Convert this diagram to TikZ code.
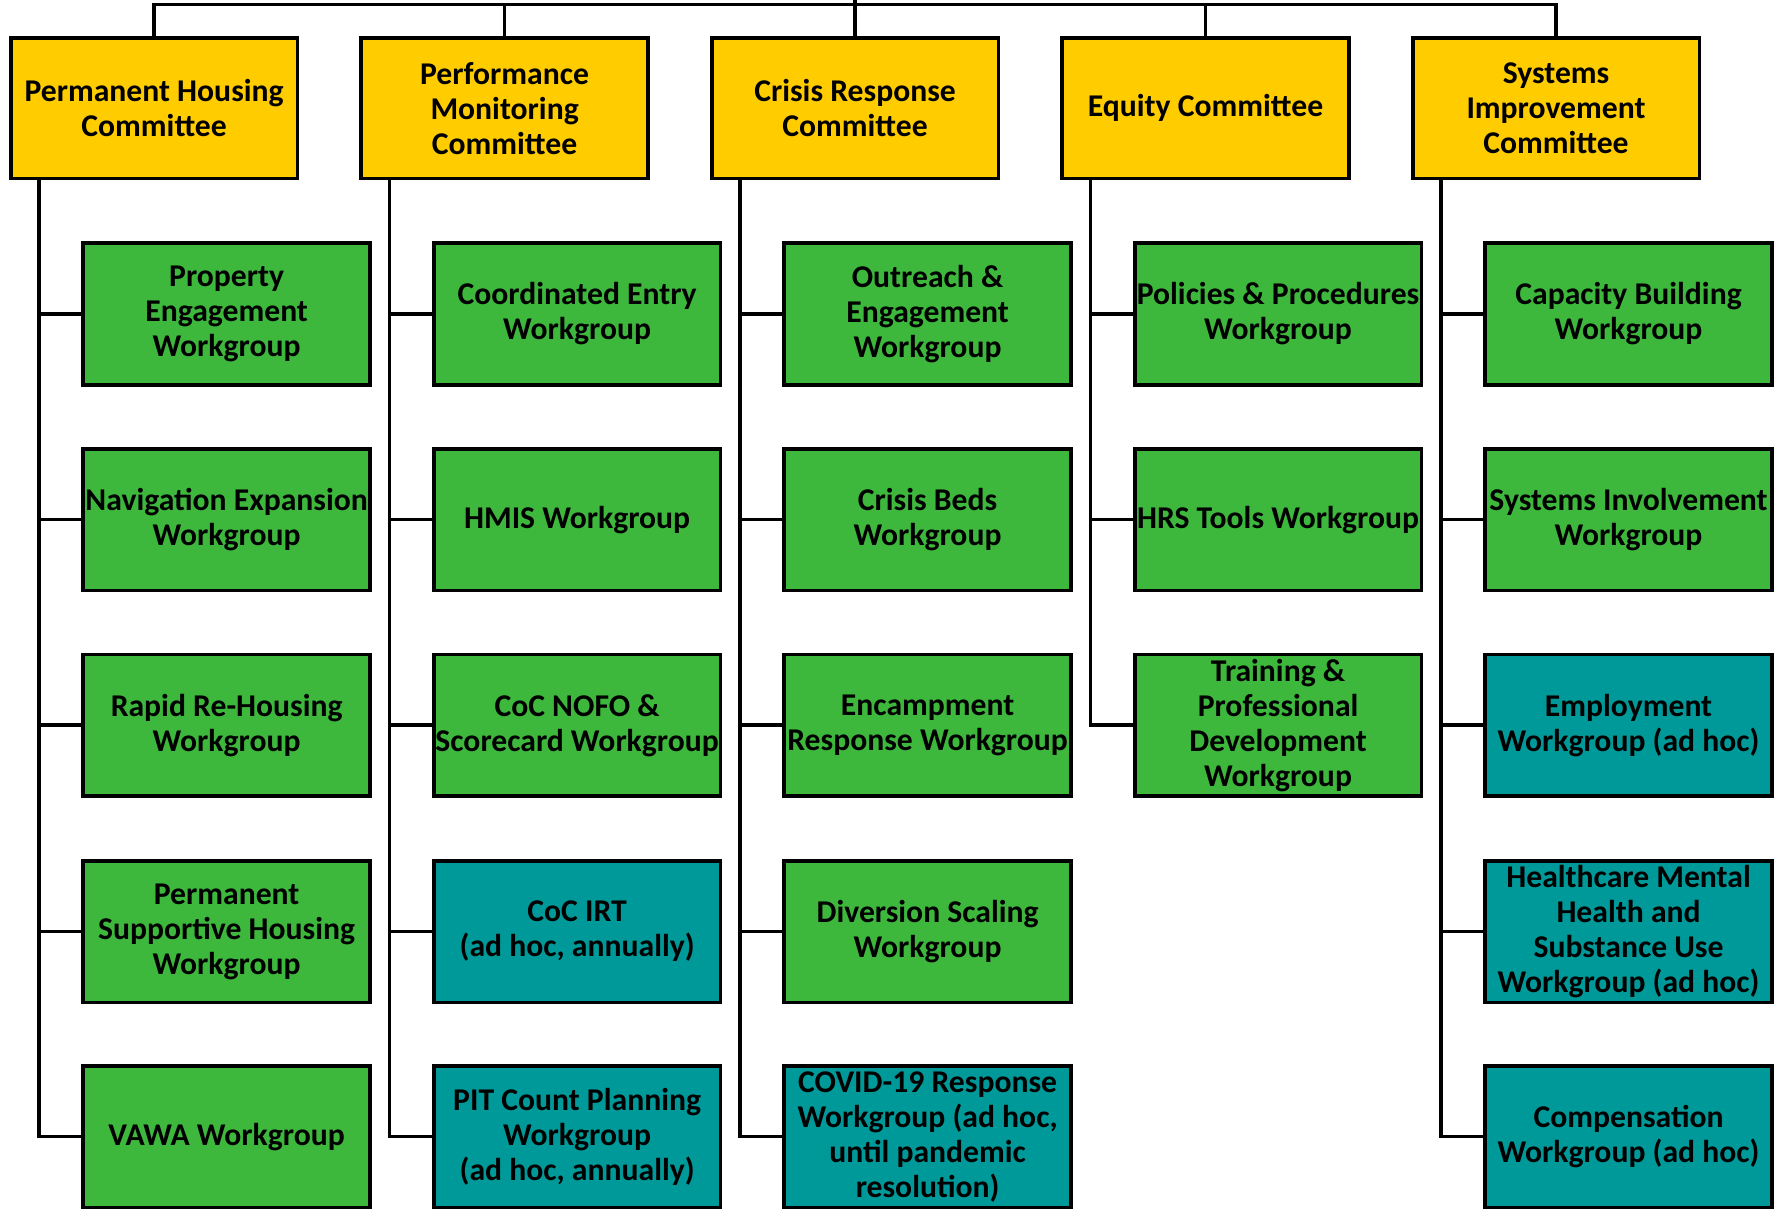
\documentclass[tikz,border=0pt]{standalone}
\usepackage{fontspec}
\setmainfont{Carlito}
\usetikzlibrary{calc}
\definecolor{cyel}{RGB}{255,204,0}
\definecolor{cgrn}{RGB}{61,184,61}
\definecolor{cteal}{RGB}{0,153,153}
\begin{document}
\begin{tikzpicture}[x=0.1mm,y=-0.1mm,
 box/.style={draw=black, line width=0.33mm, minimum width=25.3mm, minimum height=12.5mm, inner sep=0pt, align=center, font=\fontsize{7.95}{8.8}\selectfont\bfseries},
 comm/.style={box, fill=cyel, minimum height=12.4mm},
 wg/.style={box, fill=cgrn},
 adhoc/.style={box, fill=cteal},
 conn/.style={draw=black, line width=0.32mm}]
\useasboundingbox (0,0) rectangle (1568,1068.6);
% committees
\node[comm] (c1) at (136,95.5) {Permanent Housing\\Committee};
\node[comm] (c2) at (445.25,95.5) {Performance\\Monitoring\\Committee};
\node[comm] (c3) at (754.5,95.5) {Crisis Response\\Committee};
\node[comm] (c4) at (1063.75,95.5) {Equity Committee};
\node[comm] (c5) at (1373,95.5) {Systems\\Improvement\\Committee};
% column 1
\node[wg] (w11) at (200,277) {Property\\Engagement\\Workgroup};
\node[wg] (w12) at (200,458.5) {Navigation Expansion\\Workgroup};
\node[wg] (w13) at (200,640) {Rapid Re-Housing\\Workgroup};
\node[wg] (w14) at (200,822) {Permanent\\Supportive Housing\\Workgroup};
\node[wg] (w15) at (200,1003) {VAWA Workgroup};
% column 2
\node[wg] (w21) at (509.25,277) {Coordinated Entry\\Workgroup};
\node[wg] (w22) at (509.25,458.5) {HMIS Workgroup};
\node[wg] (w23) at (509.25,640) {CoC NOFO \&\\Scorecard Workgroup};
\node[adhoc] (w24) at (509.25,822) {CoC IRT\\(ad hoc, annually)};
\node[adhoc] (w25) at (509.25,1003) {PIT Count Planning\\Workgroup\\(ad hoc, annually)};
% column 3
\node[wg] (w31) at (818.5,277) {Outreach \&\\Engagement\\Workgroup};
\node[wg] (w32) at (818.5,458.5) {Crisis Beds\\Workgroup};
\node[wg] (w33) at (818.5,640) {Encampment\\Response Workgroup};
\node[wg] (w34) at (818.5,822) {Diversion Scaling\\Workgroup};
\node[adhoc] (w35) at (818.5,1003) {COVID-19 Response\\Workgroup (ad hoc,\\until pandemic\\resolution)};
% column 4
\node[wg] (w41) at (1127.75,277) {Policies \& Procedures\\Workgroup};
\node[wg] (w42) at (1127.75,458.5) {HRS Tools Workgroup};
\node[wg] (w43) at (1127.75,640) {Training \&\\Professional\\Development\\Workgroup};
% column 5
\node[wg] (w51) at (1437,277) {Capacity Building\\Workgroup};
\node[wg] (w52) at (1437,458.5) {Systems Involvement\\Workgroup};
\node[adhoc] (w53) at (1437,640) {Employment\\Workgroup (ad hoc)};
\node[adhoc] (w54) at (1437,822) {Healthcare Mental\\Health and\\Substance Use\\Workgroup (ad hoc)};
\node[adhoc] (w55) at (1437,1003) {Compensation\\Workgroup (ad hoc)};
% top bus
\coordinate (bus) at (754.5,4);
\coordinate (top) at (754.5,0);
\draw[conn] (c1.north) |- (bus) -| (c5.north);
\draw[conn] (c2.north) -- (c2.north |- bus);
\draw[conn] (c4.north) -- (c4.north |- bus);
\draw[conn] (top) -- (c3.north);
% spines
\coordinate (s1) at ($(c1.south west)+(26.5,0)$);
\coordinate (s2) at ($(c2.south west)+(26.5,0)$);
\coordinate (s3) at ($(c3.south west)+(26.5,0)$);
\coordinate (s4) at ($(c4.south west)+(26.5,0)$);
\coordinate (s5) at ($(c5.south west)+(26.5,0)$);
\draw[conn] (s1) |- (w15.west);
\draw[conn] (s2) |- (w25.west);
\draw[conn] (s3) |- (w35.west);
\draw[conn] (s4) |- (w43.west);
\draw[conn] (s5) |- (w55.west);
\foreach \c/\n in {1/4,2/4,3/4,4/2,5/4}{
  \foreach \r in {1,...,\n}{
    \draw[conn] (w\c\r.west) -- (w\c\r.west -| s\c);
  }
}
\end{tikzpicture}
\end{document}
